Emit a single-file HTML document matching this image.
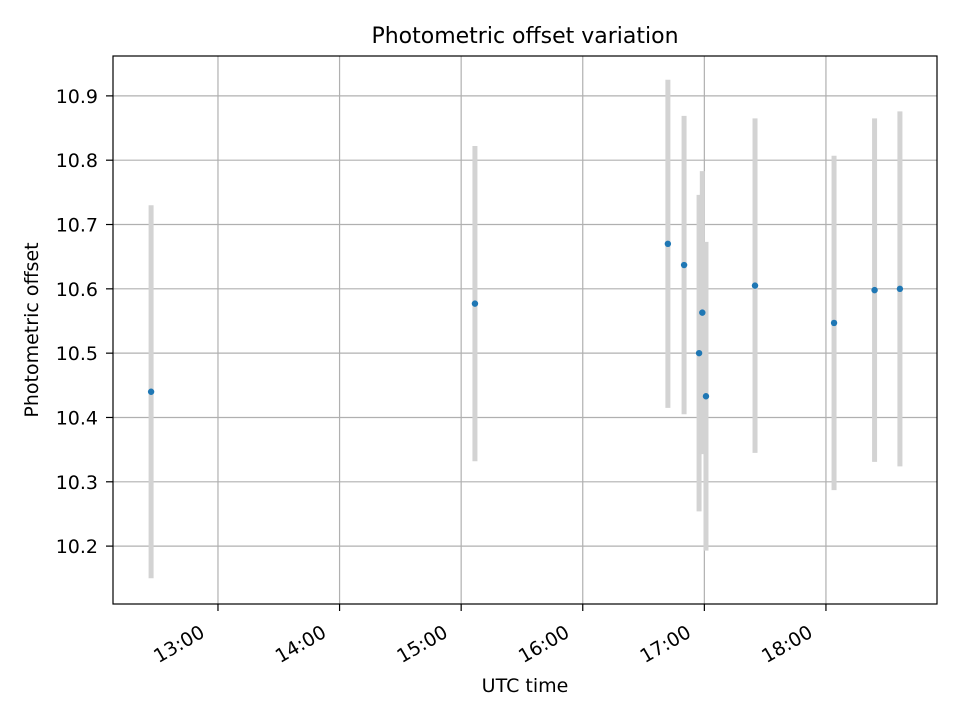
<!DOCTYPE html>
<html><head><meta charset="utf-8"><style>
body{margin:0;background:#fff;}
svg{font-family:"DejaVu Sans","Liberation Sans",sans-serif;}
</style></head><body>
<svg id="chart" width="960" height="720">
<text x="525" y="43" font-size="22" text-anchor="middle">Photometric offset variation</text>
<g id="grid"></g><g id="bars"></g><g id="pts"></g><g id="axes"></g>
<rect x="113" y="56" width="824" height="548" fill="none" stroke="#000" stroke-width="1.2"/>
<text x="525" y="692" font-size="19" text-anchor="middle">UTC time</text>
<text transform="translate(38,330) rotate(-90)" font-size="19" text-anchor="middle">Photometric offset</text>
</svg>
<script>
// times in minutes after midnight UTC
const times=[747,906.8,1002,1010,1017.4,1019,1020.8,1045,1084,1104,1116.5];
const offsets=[10.44,10.577,10.67,10.637,10.5,10.563,10.433,10.605,10.547,10.598,10.6];
const errors=[0.29,0.245,0.255,0.232,0.246,0.22,0.24,0.26,0.26,0.267,0.276];
const xTicks=[780,840,900,960,1020,1080];
const xTickLabels=["13:00","14:00","15:00","16:00","17:00","18:00"];
const yTicks=[10.2,10.3,10.4,10.5,10.6,10.7,10.8,10.9];
const yTickLabels=["10.2","10.3","10.4","10.5","10.6","10.7","10.8","10.9"];
const L=113,R=937,T=56,B=604;
const x0=728.2,x1=1134.8,y0=10.11,y1=10.962;
const X=t=>L+(t-x0)/(x1-x0)*(R-L);
const Y=v=>B-(v-y0)/(y1-y0)*(B-T);
const NS="http://www.w3.org/2000/svg";
function mk(p,tag,a){const e=document.createElementNS(NS,tag);for(const k in a)e.setAttribute(k,a[k]);p.appendChild(e);return e;}
const g=document.getElementById('grid'),ax=document.getElementById('axes'),bars=document.getElementById('bars'),pts=document.getElementById('pts');
xTicks.forEach((t,i)=>{const x=X(t);
 const l=mk(g,'line',{x1:x,x2:x,y1:T,y2:B,stroke:'#b0b0b0','stroke-width':1.2});
 
 
 mk(ax,'line',{x1:x,x2:x,y1:B,y2:B+7,stroke:'#000','stroke-width':1.2});
 const tx=mk(ax,'text',{x:0,y:0,'font-size':19,'text-anchor':'end',transform:`translate(${x-12},${B+32}) rotate(-30)`});
 tx.textContent=xTickLabels[i];
 
 
});
yTicks.forEach((v,i)=>{const y=Y(v);
 const l=mk(g,'line',{x1:L,x2:R,y1:y,y2:y,stroke:'#b0b0b0','stroke-width':1.2});
 
 
 mk(ax,'line',{x1:L-7,x2:L,y1:y,y2:y,stroke:'#000','stroke-width':1.2});
 const tx=mk(ax,'text',{x:L-15,y:y+7,'font-size':19,'text-anchor':'end'});
 tx.textContent=yTickLabels[i];
 
 
});
times.forEach((t,i)=>{const x=X(t);
 const b=mk(bars,'line',{x1:x,x2:x,y1:Y(offsets[i]+errors[i]),y2:Y(offsets[i]-errors[i]),stroke:'#d3d3d3','stroke-width':5});
 
 
 const c=mk(pts,'circle',{cx:x,cy:Y(offsets[i]),r:3.2,fill:'#1f77b4'});
 
 
});
</script>
</body></html>
